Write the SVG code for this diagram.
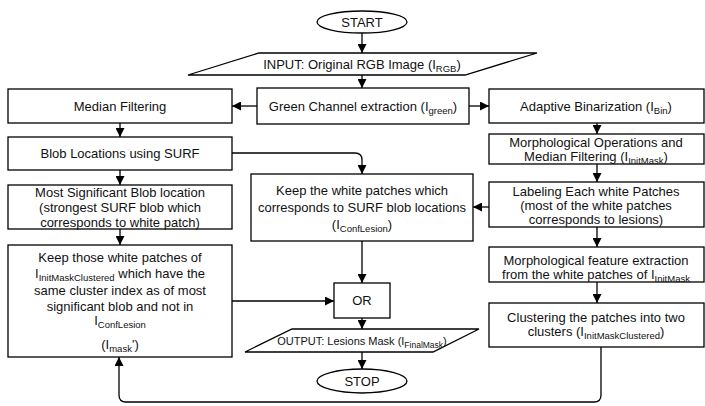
<svg xmlns="http://www.w3.org/2000/svg" width="705" height="406" viewBox="0 0 705 406">
  <style>
    .box { fill: #ffffff; stroke: #000000; stroke-width: 1.3; }
    .t { font-family: "Liberation Sans", Arial, sans-serif; font-size: 13px; fill: #111111; text-anchor: middle; }
    .s { font-size: 9.5px; }
    .small { font-size: 11px; }
    .small .s { font-size: 8.5px; }
    .edge { fill: none; stroke: #000000; stroke-width: 1.3; }
  </style>
  <defs>
    <marker id="arrow" viewBox="0 0 10 10" refX="10" refY="5" markerWidth="9" markerHeight="9" markerUnits="userSpaceOnUse" orient="auto">
      <path d="M0,0 L10,5 L0,10 z" fill="#000000"/>
    </marker>
  </defs>
  <rect x="0" y="0" width="705" height="406" fill="#ffffff"/>

  <!-- connectors -->
  <g id="connectors" class="edge" marker-end="url(#arrow)">
    <path d="M362,33 V53"/>
    <path d="M362,75 V88"/>
    <path d="M257,106 H232"/>
    <path d="M469,106 H489"/>
    <path d="M120,123 V137"/>
    <path d="M120,170 V185"/>
    <path d="M120,229 V245"/>
    <path d="M232,153 H355 Q362,153 362,160 V174"/>
    <path d="M597,123 V134"/>
    <path d="M597,164 V182"/>
    <path d="M489,207 H473"/>
    <path d="M597,227 V247"/>
    <path d="M597,282 V303"/>
    <path d="M362,241 V283"/>
    <path d="M232,301 H334"/>
    <path d="M362,318 V329"/>
    <path d="M362,352 V369"/>
    <path d="M601,347 V395 Q601,402 594,402 H126 Q119,402 119,395 V357"/>
  </g>

  <g id="start">
    <ellipse class="box" cx="362" cy="22" rx="45" ry="11"/>
    <text class="t" x="362" y="27">START</text>
  </g>

  <g id="input">
    <polygon class="box" points="259,53 537,53 465,75 188,75"/>
    <text class="t" x="362" y="69">INPUT: Original RGB Image (I<tspan class="s" dy="3">RGB</tspan><tspan dy="-3">)</tspan></text>
  </g>

  <g id="green-channel">
    <rect class="box" x="257" y="88" width="212" height="36"/>
    <text class="t" x="363" y="111">Green Channel extraction (I<tspan class="s" dy="3">green</tspan><tspan dy="-3">)</tspan></text>
  </g>

  <g id="median-filtering">
    <rect class="box" x="8" y="89" width="224" height="34"/>
    <text class="t" x="120" y="111">Median Filtering</text>
  </g>

  <g id="adaptive-binarization">
    <rect class="box" x="489" y="89" width="215" height="34"/>
    <text class="t" x="596" y="111">Adaptive Binarization (I<tspan class="s" dy="3">Bin</tspan><tspan dy="-3">)</tspan></text>
  </g>

  <g id="blob-locations">
    <rect class="box" x="8" y="137" width="224" height="33"/>
    <text class="t" x="120" y="158">Blob Locations using SURF</text>
  </g>

  <g id="morph-ops">
    <rect class="box" x="489" y="134" width="215" height="30"/>
    <text class="t" x="596" y="147">Morphological Operations and</text>
    <text class="t" x="596" y="161">Median Filtering (I<tspan class="s" dy="2.5">InitMask</tspan><tspan dy="-2.5">)</tspan></text>
  </g>

  <g id="most-significant">
    <rect class="box" x="8" y="185" width="224" height="44"/>
    <text class="t" x="120" y="197">Most Significant Blob location</text>
    <text class="t" x="120" y="212">(strongest SURF blob which</text>
    <text class="t" x="120" y="227">corresponds to white patch)</text>
  </g>

  <g id="confirmed-lesions">
    <rect class="box" x="251" y="174" width="222" height="67"/>
    <text class="t" x="362" y="195">Keep the white patches which</text>
    <text class="t" x="362" y="212">corresponds to SURF blob locations</text>
    <text class="t" x="362" y="229">(I<tspan class="s" dy="3">ConfLesion</tspan><tspan dy="-3">)</tspan></text>
  </g>

  <g id="labeling">
    <rect class="box" x="489" y="182" width="215" height="45"/>
    <text class="t" x="596" y="196">Labeling Each white Patches</text>
    <text class="t" x="596" y="210">(most of the white patches</text>
    <text class="t" x="596" y="224">corresponds to lesions)</text>
  </g>

  <g id="keep-clustered">
    <rect class="box" x="8" y="245" width="224" height="112"/>
    <text class="t" x="120" y="262">Keep those white patches of</text>
    <text class="t" x="120" y="278">I<tspan class="s" dy="3">InitMaskClustered</tspan><tspan dy="-3"> which have the</tspan></text>
    <text class="t" x="120" y="295">same cluster index as of most</text>
    <text class="t" x="120" y="311">significant blob and not in</text>
    <text class="t" x="120" y="325">I<tspan class="s" dy="3">ConfLesion</tspan></text>
    <text class="t" x="120" y="349">(I<tspan class="s" dy="3">mask</tspan><tspan dy="-3">'</tspan>)</text>
  </g>

  <g id="morph-feature">
    <rect class="box" x="489" y="247" width="215" height="35"/>
    <text class="t" x="596" y="265">Morphological feature extraction</text>
    <text class="t" x="596" y="279">from the white patches of I<tspan class="s" dy="2.5">InitMask</tspan></text>
  </g>

  <g id="clustering">
    <rect class="box" x="489" y="303" width="215" height="44"/>
    <text class="t" x="596" y="322">Clustering the patches into two</text>
    <text class="t" x="596" y="336">clusters (I<tspan class="s" dy="3">InitMaskClustered</tspan><tspan dy="-3">)</tspan></text>
  </g>

  <g id="or">
    <rect class="box" x="334" y="283" width="56" height="35"/>
    <text class="t" x="362" y="305">OR</text>
  </g>

  <g id="output">
    <polygon class="box" points="292,329 479,329 433,352 245,352"/>
    <text class="t small" x="362" y="345">OUTPUT: Lesions Mask (I<tspan class="s" dy="3">FinalMask</tspan><tspan dy="-3">)</tspan></text>
  </g>

  <g id="stop">
    <ellipse class="box" cx="362" cy="381" rx="45" ry="12"/>
    <text class="t" x="362" y="386">STOP</text>
  </g>
</svg>
